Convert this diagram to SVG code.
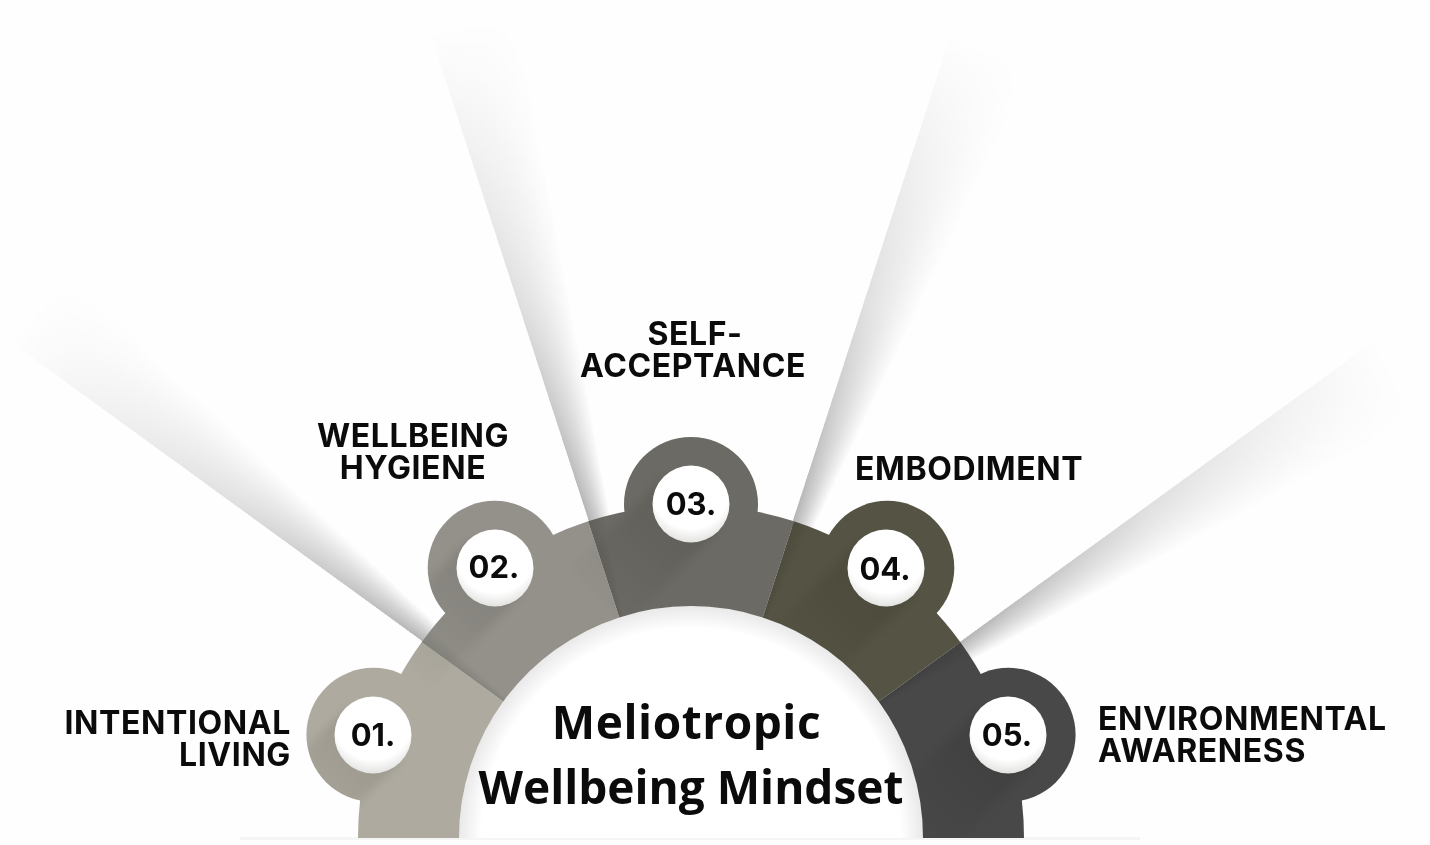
<svg xmlns="http://www.w3.org/2000/svg" xmlns:xlink="http://www.w3.org/1999/xlink" width="1430" height="845" viewBox="0 0 1430 845">
<style>
.lbl{font-family:"Inter","Liberation Sans",Arial,sans-serif;font-weight:700;font-size:32px;letter-spacing:.6px;fill:#0b0b0b}
.num{font-family:"Inter","Liberation Sans",sans-serif;font-weight:700;font-size:31px;fill:#0b0b0b;text-anchor:middle}
.ttl{font-family:"Open Sans","Noto Sans",sans-serif;font-weight:700;font-size:46px;fill:#0b0b0b;text-anchor:middle}
.w{fill:#000;opacity:.022}
.disc{fill:url(#white)}
</style>
<defs>
<radialGradient id="white" cx="50%" cy="32%" r="72%"><stop offset="0" stop-color="#fff"/><stop offset=".7" stop-color="#fff"/><stop offset="1" stop-color="#dcdcda"/></radialGradient>
<radialGradient id="inner" gradientUnits="userSpaceOnUse" cx="691" cy="838" r="233"><stop offset="0" stop-color="#fff"/><stop offset=".9" stop-color="#fff"/><stop offset="1" stop-color="#e8e8e8"/></radialGradient>
<linearGradient id="len" gradientUnits="userSpaceOnUse" x1="0" y1="0" x2="510" y2="0"><stop offset="0" stop-color="#fff"/><stop offset=".45" stop-color="#6a6a6a"/><stop offset="1" stop-color="#000"/></linearGradient>
<linearGradient id="lsg" x1="0" y1="0" x2="0" y2="1"><stop offset="0" stop-color="#000" stop-opacity=".11"/><stop offset="1" stop-color="#000" stop-opacity="0"/></linearGradient>
<filter id="soft" x="-30%" y="-30%" width="160%" height="160%"><feGaussianBlur stdDeviation="4"/></filter>
<mask id="lenmask" maskUnits="userSpaceOnUse" x="-20" y="-20" width="560" height="140"><rect x="-20" y="-20" width="560" height="140" fill="url(#len)"/></mask>
<g id="fan">
<path class="w" d="M-8 0L510 0L510 5.3L-8 1.3Z"/><path class="w" d="M-8 0L510 0L510 10.7L-8 2.6Z"/><path class="w" d="M-8 0L510 0L510 16L-8 3.9Z"/><path class="w" d="M-8 0L510 0L510 21.4L-8 5.2Z"/>
<path class="w" d="M-8 0L510 0L510 26.7L-8 6.5Z"/><path class="w" d="M-8 0L510 0L510 32.1L-8 7.8Z"/><path class="w" d="M-8 0L510 0L510 37.5L-8 9.1Z"/><path class="w" d="M-8 0L510 0L510 42.9L-8 10.4Z"/>
<path class="w" d="M-8 0L510 0L510 48.3L-8 11.7Z"/><path class="w" d="M-8 0L510 0L510 53.7L-8 13Z"/><path class="w" d="M-8 0L510 0L510 59.1L-8 14.3Z"/><path class="w" d="M-8 0L510 0L510 64.5L-8 15.6Z"/>
<path class="w" d="M-8 0L510 0L510 69.9L-8 16.9Z"/><path class="w" d="M-8 0L510 0L510 75.4L-8 18.2Z"/><path class="w" d="M-8 0L510 0L510 80.9L-8 19.5Z"/><path class="w" d="M-8 0L510 0L510 86.4L-8 20.8Z"/>
</g>
<g id="ray" mask="url(#lenmask)"><use href="#fan"/></g>
<rect id="ls" x="-38" y="0" width="76" height="135" fill="url(#lsg)"/>
<clipPath id="gear">
<path clip-rule="evenodd" d="M358 838A333 333 0 0 1 1024 838L923 838A232 232 0 0 0 459 838Z"/>
<circle cx="373.4" cy="734.8" r="67"/><circle cx="494.7" cy="567.8" r="67"/><circle cx="691" cy="504" r="67"/><circle cx="887.3" cy="567.8" r="67"/><circle cx="1008.6" cy="734.8" r="67"/>
</clipPath>
</defs>
<rect id="background" width="1430" height="845" fill="#fefefe"/>
<g id="rays">
<use href="#ray" transform="translate(422 641) rotate(216)"/>
<use href="#ray" transform="translate(588 519) rotate(252)"/>
<use href="#ray" transform="translate(793 520) rotate(288)"/>
<use href="#ray" transform="translate(961 641) rotate(324)"/>
</g>
<rect id="base-line" x="240" y="837" width="900" height="3" fill="#f5f5f5"/>
<path id="centre-disc" d="M459 838A232 232 0 0 1 923 838Z" fill="url(#inner)"/>
<g id="seg1"><path fill="#aeaa9f" d="M358 838A333 333 0 0 1 421.6 642.3L503.3 701.6A232 232 0 0 0 459 838Z"/><circle cx="373.4" cy="734.8" r="67" fill="#aeaa9f"/></g>
<g id="seg2"><path fill="#93918a" d="M421.6 642.3A333 333 0 0 1 588.1 521.3L619.3 617.4A232 232 0 0 0 503.3 701.6Z"/><circle cx="494.7" cy="567.8" r="67" fill="#93918a"/></g>
<g id="seg3"><path fill="#6c6a64" d="M588.1 521.3A333 333 0 0 1 793.9 521.3L762.7 617.4A232 232 0 0 0 619.3 617.4Z"/><circle cx="691" cy="504" r="67" fill="#6c6a64"/></g>
<g id="seg4"><path fill="#555343" d="M793.9 521.3A333 333 0 0 1 960.4 642.3L878.7 701.6A232 232 0 0 0 762.7 617.4Z"/><circle cx="887.3" cy="567.8" r="67" fill="#555343"/></g>
<g id="seg5"><path fill="#484848" d="M960.4 642.3A333 333 0 0 1 1024 838L923 838A232 232 0 0 0 878.7 701.6Z"/><circle cx="1008.6" cy="734.8" r="67" fill="#484848"/></g>
<g id="long-shadows" clip-path="url(#gear)">
<g filter="url(#soft)">
<use href="#ls" transform="translate(373.4 734.8) rotate(45)"/>
<use href="#ls" transform="translate(494.7 567.8) rotate(45)"/>
<use href="#ls" transform="translate(691 504) rotate(45)"/>
<use href="#ls" transform="translate(887.3 567.8) rotate(45)"/>
<use href="#ls" transform="translate(1008.6 734.8) rotate(45)"/>
</g>
<g opacity=".3">
<use href="#fan" transform="translate(503.3 701.6) rotate(216) scale(.2)"/>
<use href="#fan" transform="translate(619.3 617.4) rotate(252) scale(.2)"/>
<use href="#fan" transform="translate(762.7 617.4) rotate(288) scale(.2)"/>
<use href="#fan" transform="translate(878.7 701.6) rotate(324) scale(.2)"/>
</g>
</g>
<g id="n01"><circle class="disc" cx="373" cy="735" r="38.5"/><text class="num" x="373" y="746">01.</text></g>
<g id="n02"><circle class="disc" cx="495" cy="568" r="38.5"/><text class="num" x="494" y="578">02.</text></g>
<g id="n03"><circle class="disc" cx="691" cy="504" r="38.5"/><text class="num" x="691" y="515">03.</text></g>
<g id="n04"><circle class="disc" cx="886" cy="568" r="38.5"/><text class="num" x="885" y="580">04.</text></g>
<g id="n05"><circle class="disc" cx="1008" cy="735" r="38.5"/><text class="num" x="1007" y="746">05.</text></g>
<g id="labels">
<text class="lbl" x="291" y="734" text-anchor="end">INTENTIONAL</text>
<text class="lbl" x="291" y="766" text-anchor="end">LIVING</text>
<text class="lbl" x="413" y="447" text-anchor="middle">WELLBEING</text>
<text class="lbl" x="413" y="479" text-anchor="middle">HYGIENE</text>
<text class="lbl" x="695" y="345" text-anchor="middle">SELF-</text>
<text class="lbl" x="693" y="377" text-anchor="middle" letter-spacing=".3">ACCEPTANCE</text>
<text class="lbl" x="855" y="480">EMBODIMENT</text>
<text class="lbl" x="1098" y="730">ENVIRONMENTAL</text>
<text class="lbl" x="1098" y="762">AWARENESS</text>
</g>
<g id="title">
<text class="ttl" x="686.5" y="739" letter-spacing=".55">Meliotropic</text>
<text class="ttl" x="691" y="804">Wellbeing Mindset</text>
</g>
</svg>
